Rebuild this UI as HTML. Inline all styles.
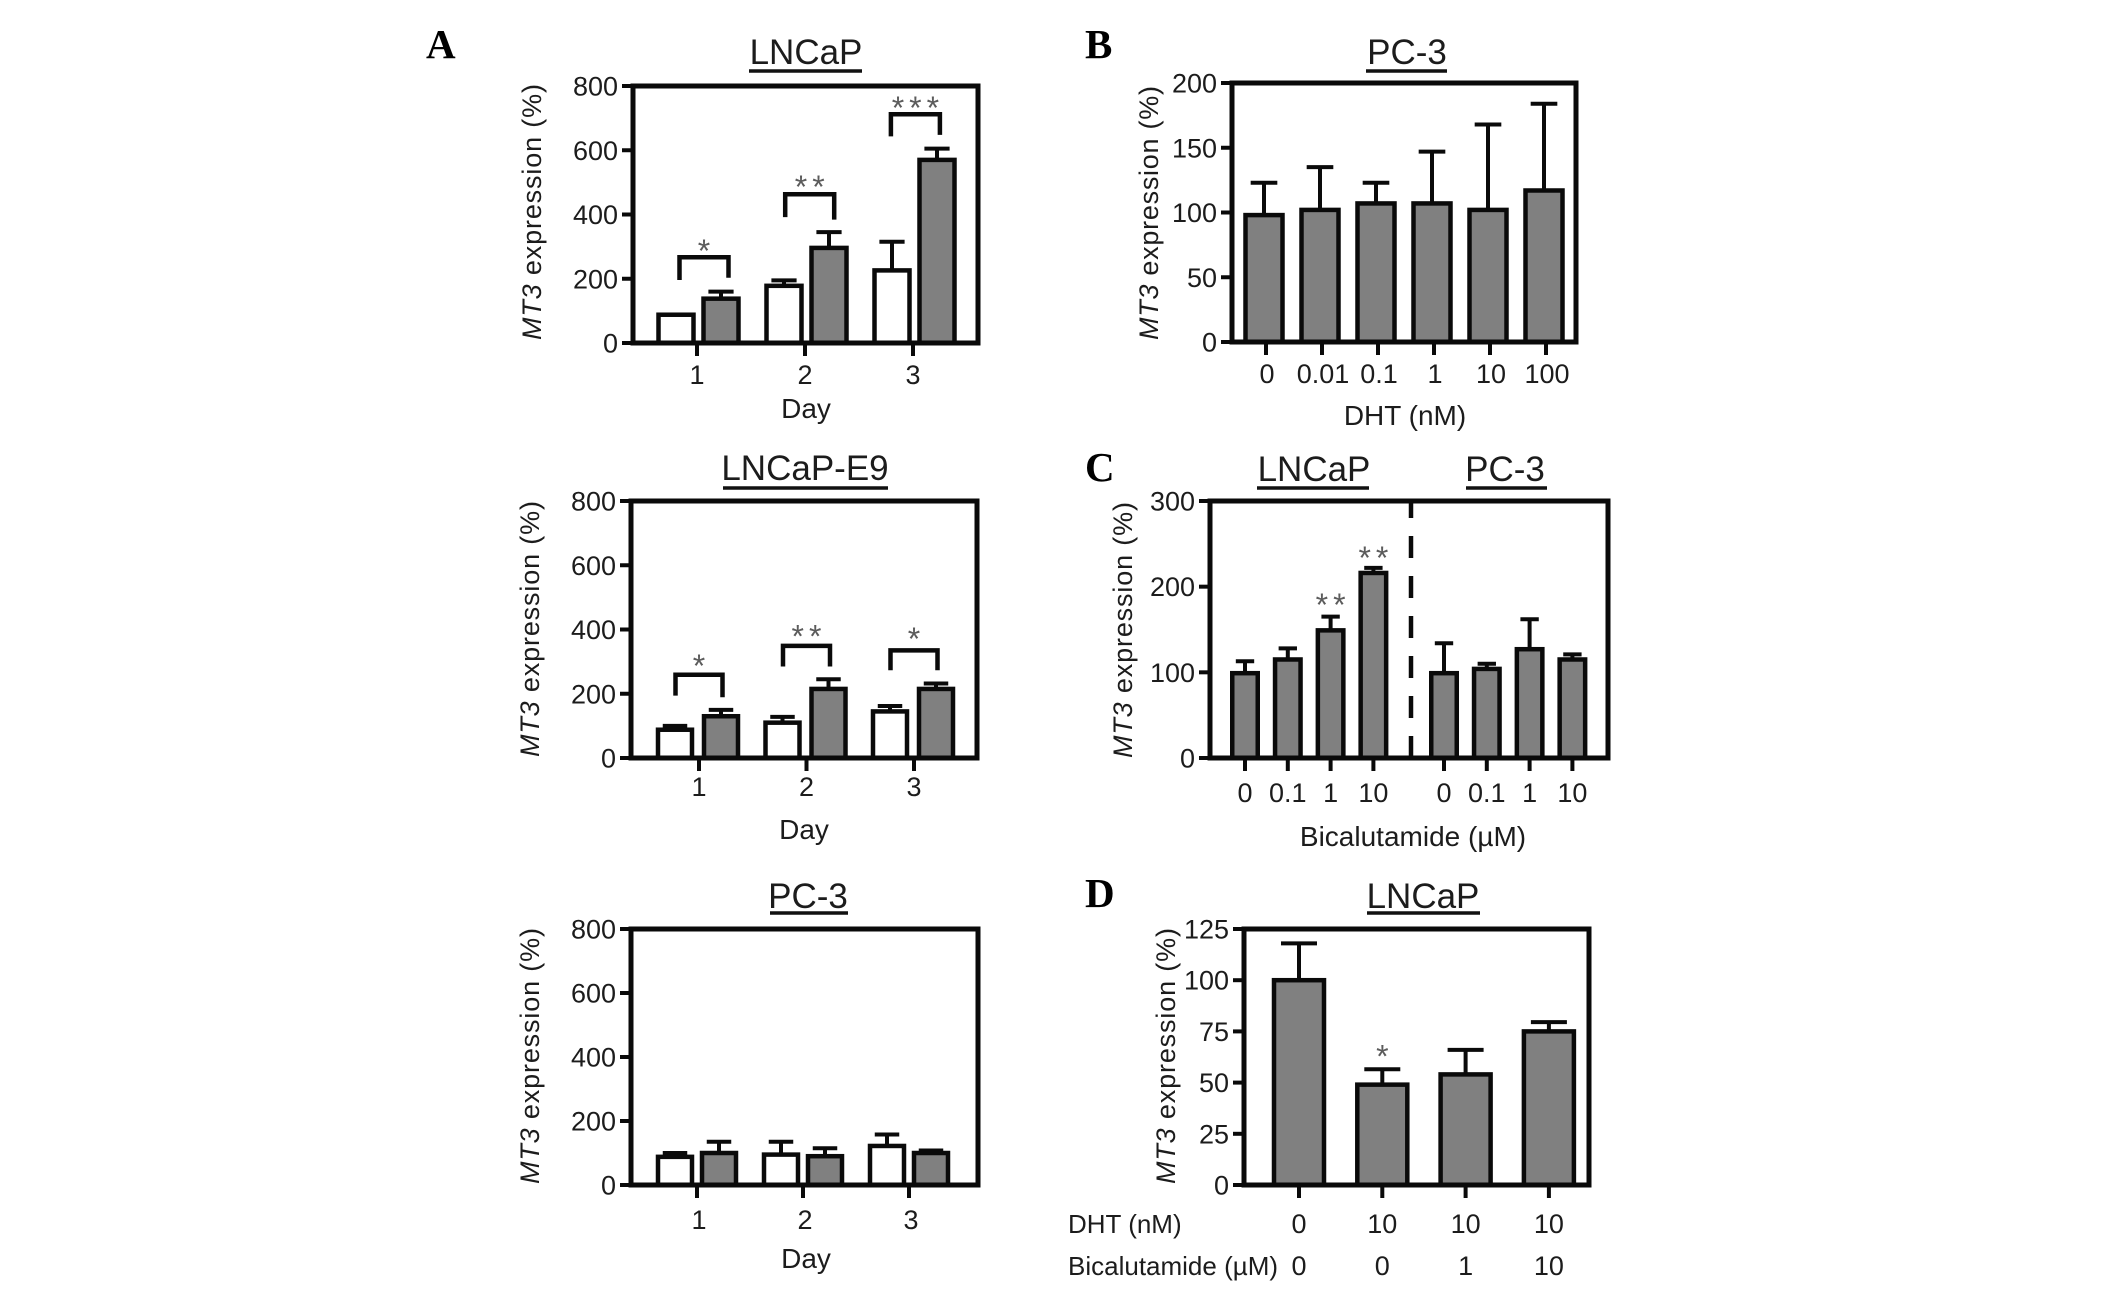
<!DOCTYPE html>
<html>
<head>
<meta charset="utf-8">
<title>MT3 expression bar charts</title>
<style>
html,body{margin:0;padding:0;background:#fff;width:2126px;height:1292px;overflow:hidden}
svg{display:block}
text{font-family:"Liberation Sans",sans-serif;fill:#1c1c1c}
.title{font-size:35px;text-anchor:middle}
.letter{font-family:"Liberation Serif",serif;font-weight:bold;font-size:41px;fill:#000}
.ytitle{font-size:27px;text-anchor:middle}
.xtitle{font-size:28px;text-anchor:middle}
.tick{font-size:27px}
.star{font-size:32px;fill:#5c5c5c;text-anchor:middle;letter-spacing:5px}
.ul{stroke:#111;stroke-width:3.5}
</style>
</head>
<body>
<svg id="figure" xmlns="http://www.w3.org/2000/svg" width="2126" height="1292" viewBox="0 0 2126 1292">
<rect x="0" y="0" width="2126" height="1292" fill="#fff"/>

<text class="letter" x="426" y="58">A</text>
<text class="letter" x="1085" y="58">B</text>
<text class="letter" x="1085" y="481">C</text>
<text class="letter" x="1085" y="907">D</text>

<text class="title" x="806" y="64">LNCaP</text>
<line class="ul" x1="749" x2="862" y1="71" y2="71"/>
<text class="title" x="805" y="480">LNCaP-E9</text>
<line class="ul" x1="723" x2="888" y1="488" y2="488"/>
<text class="title" x="808" y="908">PC-3</text>
<line class="ul" x1="770" x2="848" y1="913" y2="913"/>
<text class="title" x="1407" y="64">PC-3</text>
<line class="ul" x1="1366" x2="1447" y1="71" y2="71"/>
<text class="title" x="1314" y="481">LNCaP</text>
<line class="ul" x1="1257" x2="1369" y1="488" y2="488"/>
<text class="title" x="1505" y="481">PC-3</text>
<line class="ul" x1="1466" x2="1547" y1="488" y2="488"/>
<text class="title" x="1423" y="908">LNCaP</text>
<line class="ul" x1="1367" x2="1480" y1="913" y2="913"/>

<text class="ytitle" transform="translate(541 212) rotate(-90)" textLength="256" lengthAdjust="spacing"><tspan font-style="italic">MT3</tspan> expression (%)</text>
<text class="ytitle" transform="translate(539 629) rotate(-90)" textLength="256" lengthAdjust="spacing"><tspan font-style="italic">MT3</tspan> expression (%)</text>
<text class="ytitle" transform="translate(539 1056) rotate(-90)" textLength="256" lengthAdjust="spacing"><tspan font-style="italic">MT3</tspan> expression (%)</text>
<text class="ytitle" transform="translate(1158 213) rotate(-90)" textLength="254" lengthAdjust="spacing"><tspan font-style="italic">MT3</tspan> expression (%)</text>
<text class="ytitle" transform="translate(1132 630) rotate(-90)" textLength="256" lengthAdjust="spacing"><tspan font-style="italic">MT3</tspan> expression (%)</text>
<text class="ytitle" transform="translate(1175 1056) rotate(-90)" textLength="256" lengthAdjust="spacing"><tspan font-style="italic">MT3</tspan> expression (%)</text>

<text class="xtitle" x="806" y="418">Day</text>
<text class="xtitle" x="804" y="839">Day</text>
<text class="xtitle" x="806" y="1268">Day</text>
<text class="xtitle" x="1405" y="425">DHT (nM)</text>
<text class="xtitle" x="1413" y="846">Bicalutamide (µM)</text>
<text class="tick" x="1068" y="1233" style="font-size:26px">DHT (nM)</text>
<text class="tick" x="1068" y="1275" style="font-size:26px">Bicalutamide (µM)</text>
</svg>
<script>
// ---- Panel A, LNCaP ----
const dayLabels = ['1', '2', '3'];
const pctTicks = [0, 200, 400, 600, 800];
const a1Control = [88, 178, 226];
const a1ControlErr = [88, 195, 315];
const a1Treated = [138, 296, 570];
const a1TreatedErr = [160, 345, 605];
const a1Stars = ['*', '**', '***'];
const a1BracketTop = [267, 463, 712];
const a1BracketLeft = [196, 392, 643];
const a1BracketRight = [203, 384, 648];
const a1StarLevel = [300, 500, 745];

// ---- Panel A, LNCaP-E9 ----
const a2Control = [88, 110, 145];
const a2ControlErr = [100, 128, 162];
const a2Treated = [130, 215, 215];
const a2TreatedErr = [150, 245, 232];
const a2Stars = ['*', '**', '*'];
const a2BracketTop = [259, 349, 335];
const a2BracketLeft = [194, 285, 273];
const a2BracketRight = [189, 285, 273];
const a2StarLevel = [300, 392, 385];

// ---- Panel A, PC-3 ----
const a3Control = [88, 95, 122];
const a3ControlErr = [100, 135, 158];
const a3Treated = [100, 90, 100];
const a3TreatedErr = [135, 115, 108];

// ---- Panel B ----
const bLabels = ['0', '0.01', '0.1', '1', '10', '100'];
const bTicks = [0, 50, 100, 150, 200];
const bValues = [98, 102, 107, 107, 102, 117];
const bErr = [123, 135, 123, 147, 168, 184];

// ---- Panel C ----
const cLabels = ['0', '0.1', '1', '10'];
const cTicks = [0, 100, 200, 300];
const cLncapValues = [99, 115, 149, 216];
const cLncapErr = [113, 128, 165, 222];
const cLncapStars = ['', '', '**', '**'];
const cLncapStarLevel = [0, 0, 184, 239];
const cPc3Values = [99, 104, 127, 115];
const cPc3Err = [134, 110, 162, 121];

// ---- Panel D ----
const dTicks = [0, 25, 50, 75, 100, 125];
const dDht = ['0', '10', '10', '10'];
const dBica = ['0', '0', '1', '10'];
const dValues = [100, 49, 54, 75];
const dErr = [118, 56.5, 66, 79.5];
const dStars = ['', '*', '', ''];
const dStarLevel = [0, 65, 0, 0];

const svg = document.getElementById('figure');
const NS = 'http://www.w3.org/2000/svg';
const INK = '#0a0a0a';
const GRAY = '#808080';

function shape(tag, attrs) {
  const el = document.createElementNS(NS, tag);
  for (const k in attrs) el.setAttribute(k, attrs[k]);
  svg.appendChild(el);
  return el;
}
function yScale(p) {
  return v => p.bottom - (v / p.yMax) * (p.bottom - p.top);
}
function drawFrame(p) {
  const frame = shape('rect', {x: p.left, y: p.top, width: p.right - p.left, height: p.bottom - p.top, fill: 'none', stroke: INK, 'stroke-width': 5});
  
  
  const y = yScale(p);
  p.yTicks.forEach(t => {
    const tick = shape('line', {x1: p.left - 11, x2: p.left, y1: y(t), y2: y(t), stroke: INK, 'stroke-width': 4});
    
    
    const label = shape('text', {x: p.left - 15, y: y(t) + 9.5, 'text-anchor': 'end', class: 'tick'});
    label.textContent = t;
    
    
  });
}
function drawXTick(p, x, text, baseline, labelX) {
  const tick = shape('line', {x1: x, x2: x, y1: p.bottom, y2: p.bottom + 13, stroke: INK, 'stroke-width': 4});
  
  
  const label = shape('text', {x: labelX, y: baseline, 'text-anchor': 'middle', class: 'tick'});
  label.textContent = text;
  
  
}
function drawBar(p, cx, w, value, err, fill) {
  const y = yScale(p);
  if (err > value) {
    const stem = shape('line', {x1: cx, x2: cx, y1: y(value), y2: y(err), stroke: INK, 'stroke-width': 4});
    
    
    const capW = w * 0.36;
    const cap = shape('line', {x1: cx - capW, x2: cx + capW, y1: y(err), y2: y(err), stroke: INK, 'stroke-width': 4});
    
    
  }
  const bar = shape('rect', {x: cx - w / 2, y: y(value), width: w, height: y(0) - y(value), fill: fill, stroke: INK, 'stroke-width': 4.5});
  
  
}
function drawStar(p, cx, level, text) {
  const star = shape('text', {x: cx + 2.5, y: yScale(p)(level) + 15.5, class: 'star'});
  star.textContent = text;
  
  
}
function drawBracket(p, x1, x2, top, leftEnd, rightEnd) {
  const y = yScale(p);
  const br = shape('path', {d: 'M' + x1 + ' ' + y(leftEnd) + 'V' + y(top) + 'H' + x2 + 'V' + y(rightEnd), fill: 'none', stroke: INK, 'stroke-width': 4.5});
  
  
}
function groupedPanel(p, control, controlErr, treated, treatedErr, stars, top, leftEnd, rightEnd, starLevel) {
  const x = i => p.first + i * p.step;
  const tx = i => p.tickFirst + i * p.tickStep;
  const bx = i => p.brFirst + i * p.brStep;
  dayLabels.forEach((d, i) => {
    drawBar(p, x(i) - p.offset, p.barW, control[i], controlErr[i], '#fff');
    drawBar(p, x(i) + p.offset, p.barW, treated[i], treatedErr[i], GRAY);
  });
  drawFrame(p);
  dayLabels.forEach((d, i) => drawXTick(p, tx(i), d, p.labelY, tx(i) + p.labelShift));
  if (stars) stars.forEach((s, i) => {
    drawBracket(p, bx(i) - p.brHalf, bx(i) + p.brHalf, top[i], leftEnd[i], rightEnd[i]);
    drawStar(p, bx(i), starLevel[i], s);
  });
}

groupedPanel({left: 633, right: 978, top: 86, bottom: 343, yMax: 800, yTicks: pctTicks, first: 698.5, step: 108, offset: 22.5, barW: 35, labelY: 384, tickFirst: 697, tickStep: 108, labelShift: 0, brFirst: 704, brStep: 105.7, brHalf: 24.5},
  a1Control, a1ControlErr, a1Treated, a1TreatedErr, a1Stars, a1BracketTop, a1BracketLeft, a1BracketRight, a1StarLevel);
groupedPanel({left: 631, right: 977, top: 501, bottom: 758, yMax: 800, yTicks: pctTicks, first: 698, step: 107.5, offset: 23, barW: 34, labelY: 796, tickFirst: 699, tickStep: 107.5, labelShift: 0, brFirst: 699, brStep: 107.5, brHalf: 23.5},
  a2Control, a2ControlErr, a2Treated, a2TreatedErr, a2Stars, a2BracketTop, a2BracketLeft, a2BracketRight, a2StarLevel);
groupedPanel({left: 631, right: 978, top: 929, bottom: 1185, yMax: 800, yTicks: pctTicks, first: 697, step: 106, offset: 22, barW: 34, labelY: 1229, tickFirst: 697, tickStep: 106, labelShift: 2},
  a3Control, a3ControlErr, a3Treated, a3TreatedErr, null);

// Panel B
(function () {
  const p = {left: 1232, right: 1576, top: 83, bottom: 342, yMax: 200, yTicks: bTicks};
  const x = i => 1264 + i * 56;
  const tx = i => 1266 + i * 56;
  bValues.forEach((v, i) => drawBar(p, x(i), 37, v, bErr[i], GRAY));
  drawFrame(p);
  bLabels.forEach((l, i) => drawXTick(p, tx(i), l, 383, tx(i) + 1));
})();

// Panel C
(function () {
  const p = {left: 1210, right: 1608, top: 501, bottom: 758, yMax: 300, yTicks: cTicks};
  const xL = i => 1245 + i * 42.8;
  const xR = i => 1444 + i * 42.8;
  cLncapValues.forEach((v, i) => drawBar(p, xL(i), 25.5, v, cLncapErr[i], GRAY));
  cPc3Values.forEach((v, i) => drawBar(p, xR(i), 25.5, v, cPc3Err[i], GRAY));
  drawFrame(p);
  cLabels.forEach((l, i) => drawXTick(p, xL(i), l, 802, xL(i)));
  cLabels.forEach((l, i) => drawXTick(p, xR(i), l, 802, xR(i)));
  cLncapStars.forEach((s, i) => { if (s) drawStar(p, xL(i), cLncapStarLevel[i], s); });
  const divider = shape('line', {x1: 1411, x2: 1411, y1: p.bottom, y2: p.top, stroke: INK, 'stroke-width': 4.5, 'stroke-dasharray': '22 18'});
  
  
})();

// Panel D
(function () {
  const p = {left: 1244, right: 1589, top: 929, bottom: 1185, yMax: 125, yTicks: dTicks};
  const x = i => 1299 + i * 83.3;
  dValues.forEach((v, i) => drawBar(p, x(i), 50, v, dErr[i], GRAY));
  drawFrame(p);
  dDht.forEach((l, i) => drawXTick(p, x(i), l, 1233, x(i)));
  dBica.forEach((l, i) => {
    const label = shape('text', {x: x(i), y: 1275, 'text-anchor': 'middle', class: 'tick'});
    label.textContent = l;
    
    
  });
  dStars.forEach((s, i) => { if (s) drawStar(p, x(i), dStarLevel[i], s); });
})();
</script>
</body>
</html>
